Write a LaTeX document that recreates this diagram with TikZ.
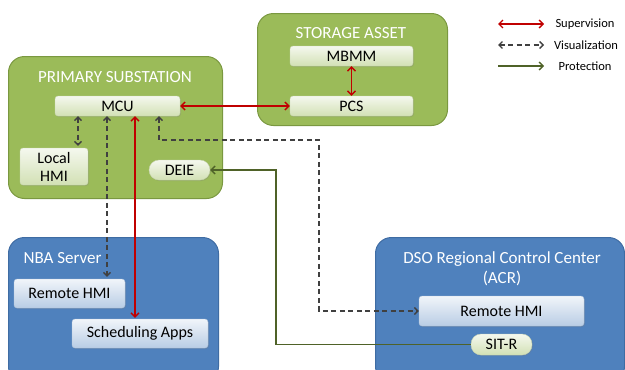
\documentclass[tikz,border=0pt]{standalone}
\usepackage{fontspec}
\setmainfont{Carlito}
\usetikzlibrary{positioning,arrows.meta,shadows}

\definecolor{subgreen}{HTML}{9BBB59}
\definecolor{subgreenline}{HTML}{7A9840}
\definecolor{srvblue}{HTML}{4F81BD}
\definecolor{srvblueline}{HTML}{3F6CA3}
\definecolor{supred}{HTML}{C00000}
\definecolor{visgray}{HTML}{404040}
\definecolor{protgreen}{HTML}{4F6228}

\tikzset{
  area/.style={draw=#1line, fill=#1, rounded corners=16pt, line width=1pt,
    anchor=north west, inner sep=0pt},
  areatitle/.style={text=white, font=\fontsize{17}{20}\selectfont, align=center},
  greenbox/.style={draw=subgreenline!40, top color=white!90!subgreen,
    bottom color=subgreen!45, rounded corners=3pt, inner sep=0pt,
    font=\fontsize{16}{18}\selectfont, align=center,
    drop shadow={opacity=0.25, shadow xshift=1pt, shadow yshift=-1pt}},
  bluebox/.style={draw=srvblueline!40, top color=white!92!srvblue,
    bottom color=srvblue!40, rounded corners=3pt, inner sep=0pt,
    font=\fontsize{16}{18}\selectfont,
    drop shadow={opacity=0.25, shadow xshift=1pt, shadow yshift=-1pt}},
  pill/.style={greenbox, rounded corners=10pt},
  sup/.style={draw=supred, line width=1.3pt, {Straight Barb[length=4pt,width=8pt]}-{Straight Barb[length=4pt,width=8pt]}},
  vis/.style={draw=visgray, line width=1.3pt, dash pattern=on 5pt off 3.5pt,
    {Straight Barb[length=3.5pt,width=7pt]}-{Straight Barb[length=3.5pt,width=7pt]}},
  prot/.style={draw=protgreen, line width=1.3pt, -{Straight Barb[length=4pt,width=8pt]}},
  legend/.style={font=\fontsize{12.5}{14}\selectfont}
}

\begin{document}
\begin{tikzpicture}[x=1pt,y=-1pt]
  \useasboundingbox (0,0) rectangle (625,370);
  \clip (0,0) rectangle (625,370);

  % areas
  \node[area=subgreen, minimum width=214, minimum height=142] (prim) at (8,56) {};
  \node[area=subgreen, minimum width=190, minimum height=112] (store) at (257,13) {};
  \node[area=srvblue, minimum width=210, minimum height=145] (nba) at (8,237) {};
  \node[area=srvblue, minimum width=249, minimum height=145] (acr) at (375,237) {};

  \node[areatitle] (primtitle) at (115,77) {PRIMARY SUBSTATION};
  \node[areatitle] (storetitle) at (351,33) {STORAGE ASSET};
  \node[areatitle, anchor=west] (nbatitle) at (20,258) {NBA Server};
  \node[areatitle, text depth=0pt] (acrtitle) at (502,268) {DSO Regional Control Center\\(ACR)};

  % devices
  \node[greenbox, minimum width=125, minimum height=20] (mcu) at (117.5,106) {MCU};
  \node[greenbox, minimum width=68, minimum height=37] (lhmi) at (54,166.5) {Local\\HMI};
  \node[pill, minimum width=61, minimum height=20] (deie) at (179.5,170) {DEIE};
  \node[greenbox, minimum width=123, minimum height=20] (mbmm) at (351.5,56) {MBMM};
  \node[greenbox, minimum width=123, minimum height=20] (pcs) at (351.5,106) {PCS};
  \node[bluebox, minimum width=111, minimum height=29] (nbahmi) at (69.5,293.5) {Remote HMI};
  \node[bluebox, minimum width=136, minimum height=29] (sched) at (140,333.5) {Scheduling Apps};
  \node[bluebox, minimum width=165, minimum height=30] (acrhmi) at (501.5,311) {Remote HMI};
  \node[pill, minimum width=61, minimum height=21] (sitr) at (501.5,344.5) {SIT-R};

  % helper columns
  \coordinate (lhmix) at (78,0);
  \coordinate (visx) at (107,0);
  \coordinate (supx) at (135,0);
  \coordinate (acrx) at (159,0);
  \coordinate (bendvis) at (319,140);
  \coordinate (bendprot) at (276,170);

  % links
  \draw[sup] (mcu.east) -- (pcs.west);
  \draw[sup] (mbmm.south) -- (pcs.north);
  \draw[vis, shorten >=2pt] (mcu.south -| lhmix) -- (lhmi.north -| lhmix);
  \draw[vis, shorten >=2pt] (mcu.south -| visx) -- (nbahmi.north -| visx);
  \draw[sup, shorten >=1pt] (mcu.south -| supx) -- (sched.north -| supx);
  \draw[vis] (mcu.south -| acrx) |- (bendvis) |- (acrhmi.west);
  \draw[prot] (sitr.west) -| (bendprot) -- (deie.east);

  % legend
  \coordinate (supA) at (498,24);
  \coordinate (visA) at (498,45);
  \coordinate (protA) at (498,66);
  \node[legend] (supL) at (585,24) {Supervision};
  \node[legend] (visL) at (586,45) {Visualization};
  \node[legend] (protL) at (585,66) {Protection};
  \draw[sup] (supA) -- ++(46,0);
  \draw[vis] (visA) -- ++(46,0);
  \draw[prot] (protA) -- ++(46,0);
\end{tikzpicture}
\end{document}
